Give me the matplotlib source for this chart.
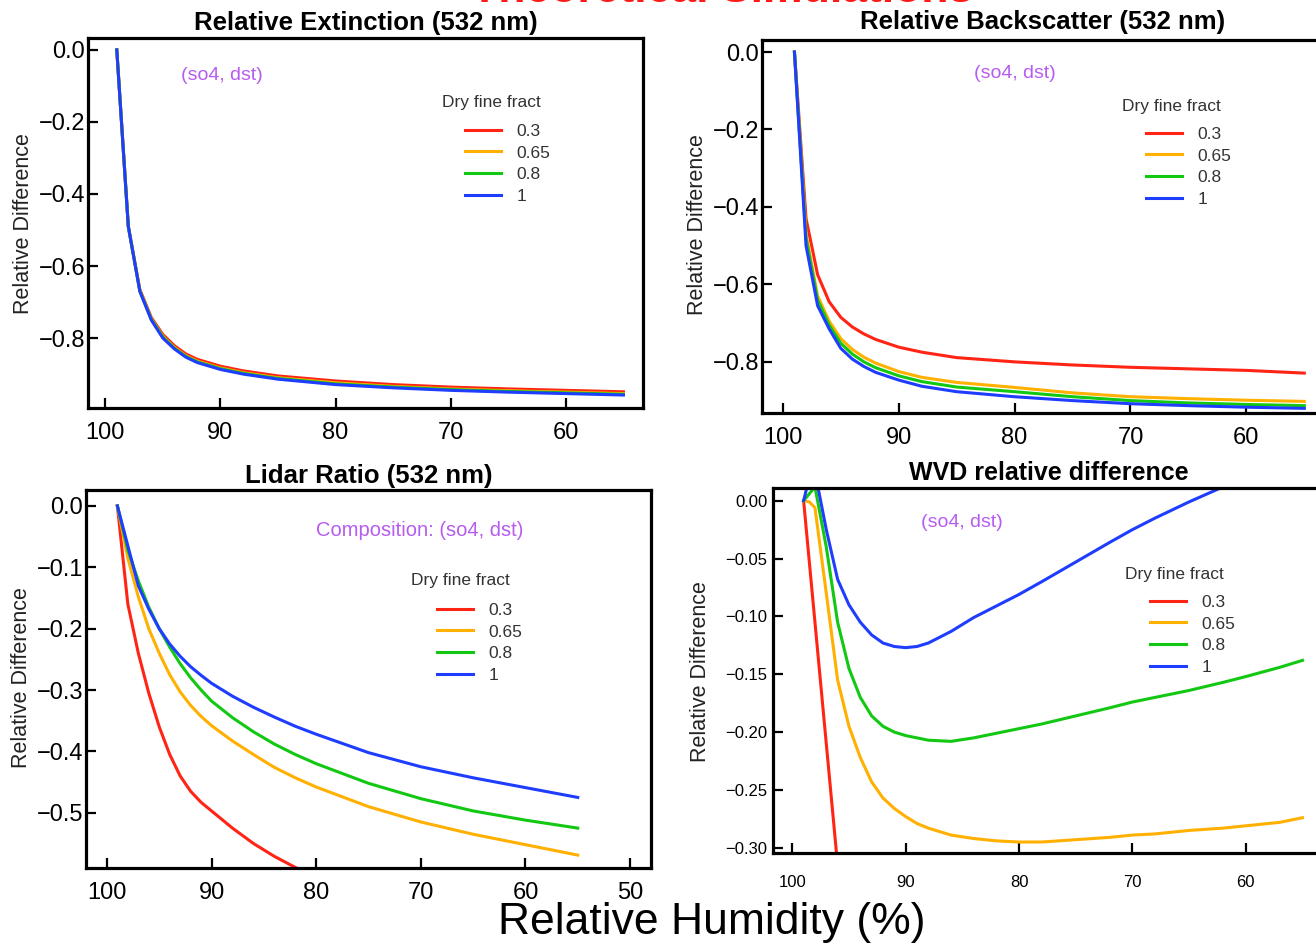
import matplotlib
matplotlib.use('Agg')
import matplotlib.pyplot as plt

plt.rcParams['font.family'] = ['Liberation Sans', 'DejaVu Sans']

W, H = 1316, 947

# dry fine fraction series
fractions = ['0.3', '0.65', '0.8', '1']
colors = ['#ff2414', '#ffb000', '#12c812', '#1f3dff']

# relative humidity grid (%) for the extinction / backscatter panels
rh = [99, 98, 97, 96, 95, 94, 93, 92, 90, 88, 85, 80, 75, 70, 65, 60, 55]

# Relative extinction (532 nm)
ext_03 = [0, -0.49, -0.665, -0.743, -0.79, -0.821, -0.844, -0.859, -0.878, -0.891, -0.905, -0.919, -0.929, -0.936, -0.941, -0.945, -0.949]
ext_065 = [0, -0.49, -0.668, -0.747, -0.795, -0.826, -0.849, -0.864, -0.883, -0.896, -0.910, -0.924, -0.934, -0.941, -0.946, -0.950, -0.954]
ext_08 = [0, -0.49, -0.669, -0.748, -0.797, -0.828, -0.851, -0.866, -0.885, -0.898, -0.912, -0.927, -0.936, -0.943, -0.948, -0.952, -0.956]
ext_1 = [0, -0.49, -0.670, -0.750, -0.800, -0.830, -0.853, -0.868, -0.887, -0.900, -0.914, -0.929, -0.938, -0.945, -0.950, -0.954, -0.958]

# Relative backscatter (532 nm)
bsc_03 = [0, -0.43, -0.575, -0.645, -0.685, -0.710, -0.728, -0.742, -0.762, -0.775, -0.789, -0.800, -0.808, -0.814, -0.818, -0.822, -0.829]
bsc_065 = [0, -0.47, -0.630, -0.695, -0.740, -0.768, -0.788, -0.803, -0.825, -0.840, -0.853, -0.866, -0.880, -0.890, -0.895, -0.899, -0.902]
bsc_08 = [0, -0.48, -0.640, -0.705, -0.752, -0.780, -0.800, -0.815, -0.836, -0.851, -0.865, -0.877, -0.890, -0.900, -0.906, -0.910, -0.913]
bsc_1 = [0, -0.50, -0.655, -0.715, -0.765, -0.793, -0.812, -0.827, -0.847, -0.863, -0.877, -0.890, -0.900, -0.908, -0.913, -0.917, -0.920]

# Lidar ratio (532 nm)
rh_lr = [99, 98, 97, 96, 95, 94, 93, 92, 91, 90, 88, 86, 84, 82, 80, 75, 70, 65, 60, 55]
rh_lr_red = [99, 98, 97, 96, 95, 94, 93, 92, 91, 90, 88, 86, 84, 82, 80]
lr_03 = [0, -0.16, -0.24, -0.305, -0.36, -0.405, -0.44, -0.465, -0.483, -0.497, -0.525, -0.55, -0.571, -0.589, -0.606]
lr_065 = [0, -0.085, -0.148, -0.2, -0.24, -0.275, -0.303, -0.325, -0.343, -0.358, -0.383, -0.405, -0.426, -0.443, -0.458, -0.49, -0.515, -0.535, -0.552, -0.569]
lr_08 = [0, -0.072, -0.122, -0.165, -0.2, -0.23, -0.257, -0.28, -0.3, -0.318, -0.345, -0.368, -0.388, -0.405, -0.42, -0.452, -0.477, -0.497, -0.512, -0.525]
lr_1 = [0, -0.065, -0.13, -0.168, -0.2, -0.225, -0.245, -0.262, -0.276, -0.289, -0.31, -0.328, -0.344, -0.359, -0.372, -0.402, -0.425, -0.443, -0.459, -0.475]

# WVD relative difference
rh_wvd_red = [99, 98, 97, 96]
wvd_03 = [0, -0.105, -0.21, -0.315]
rh_wvd = [99, 98.5, 98, 97, 96, 95, 94, 93, 92, 91, 90, 89, 88, 86, 84, 82, 80, 78, 75, 72, 70, 68, 65, 62, 60, 57, 55]
wvd_065 = [0, -0.001, -0.006, -0.08, -0.155, -0.195, -0.222, -0.243, -0.257, -0.266, -0.273, -0.279, -0.283, -0.289, -0.292, -0.294, -0.295, -0.295, -0.293, -0.291, -0.289, -0.288, -0.285, -0.283, -0.281, -0.278, -0.274]
wvd_08 = [0, 0.006, 0.012, -0.04, -0.105, -0.145, -0.17, -0.186, -0.195, -0.2, -0.203, -0.205, -0.207, -0.208, -0.205, -0.201, -0.197, -0.193, -0.186, -0.179, -0.174, -0.17, -0.164, -0.157, -0.152, -0.144, -0.138]
wvd_1 = [0, 0.02, 0.025, -0.025, -0.068, -0.09, -0.105, -0.116, -0.123, -0.126, -0.127, -0.126, -0.123, -0.113, -0.101, -0.091, -0.081, -0.07, -0.053, -0.036, -0.025, -0.015, -0.001, 0.012, 0.02, 0.032, 0.04]

purple = '#b65cf0'

fig = plt.figure(figsize=(W / 100, H / 100), dpi=100)


def box(left, top, right, bottom):
    return [left / W, 1 - bottom / H, (right - left) / W, (bottom - top) / H]


def P(x, y):
    return (x / W, 1 - y / H)


def setup(ax, xlim, ylim, xticks, yticks, fmt, fs, xpad, ypad):
    ax.set_xlim(*xlim)
    ax.set_ylim(*ylim)
    ax.set_xticks(xticks)
    ax.set_yticks(yticks)
    ax.set_yticklabels([fmt.format(v).replace('-', '\u2212') for v in yticks])
    for s in ax.spines.values():
        s.set_linewidth(2.3)
    ax.tick_params(direction='in', length=7, width=1.6, labelsize=fs,
                   top=False, right=False)
    ax.tick_params(axis='x', pad=xpad)
    ax.tick_params(axis='y', pad=ypad)


def add_legend(ax, title_xy, anchor_xy):
    fig.text(*P(*title_xy), 'Dry fine fract', fontsize=12.5, color='#333333',
             ha='left', va='center')
    leg = ax.legend(loc='upper left', bbox_to_anchor=P(*anchor_xy),
                    bbox_transform=fig.transFigure, frameon=False,
                    fontsize=12.5, handlelength=2.1, handletextpad=0.85,
                    labelspacing=0.39, borderpad=0, borderaxespad=0)
    for t in leg.get_texts():
        t.set_color('#333333')


def ylabel(xy):
    fig.text(*P(*xy), 'Relative Difference', fontsize=15.5, rotation=90,
             ha='center', va='center', color='#222222')


lw = 2.2

# ---- Relative extinction
ax1 = fig.add_axes(box(88, 38, 643, 408))
for ys, c, lab in zip([ext_03, ext_065, ext_08, ext_1], colors, fractions):
    ax1.plot(rh, ys, color=c, lw=lw, label=lab)
setup(ax1, (101.5, 53.3), (-0.994, 0.033), [100, 90, 80, 70, 60],
      [0, -0.2, -0.4, -0.6, -0.8], '{:.1f}', 17, 10, 2)
ax1.set_title('Relative Extinction (532 nm)', fontsize=18.5, fontweight='bold', pad=6)
ax1.text(*P(222, 75), '(so4, dst)', transform=fig.transFigure, color=purple,
         fontsize=14, ha='center', va='center')
add_legend(ax1, (442, 102), (465, 123.5))
ylabel((24, 224))

# ---- Relative backscatter
ax2 = fig.add_axes(box(762, 40, 1324, 413))
for ys, c, lab in zip([bsc_03, bsc_065, bsc_08, bsc_1], colors, fractions):
    ax2.plot(rh, ys, color=c, lw=lw, label=lab)
setup(ax2, (101.8, 53.3), (-0.932, 0.031), [100, 90, 80, 70, 60],
      [0, -0.2, -0.4, -0.6, -0.8], '{:.1f}', 17, 10, 2)
ax2.set_title('Relative Backscatter (532 nm)', fontsize=18.5, fontweight='bold', pad=8)
ax2.text(*P(1015, 73), '(so4, dst)', transform=fig.transFigure, color=purple,
         fontsize=14, ha='center', va='center')
add_legend(ax2, (1122, 106), (1146, 126.5))
ylabel((698, 225))

# ---- Lidar ratio
ax3 = fig.add_axes(box(86, 490, 651, 868))
ax3.plot(rh_lr_red, lr_03, color=colors[0], lw=lw, label=fractions[0])
for ys, c, lab in zip([lr_065, lr_08, lr_1], colors[1:], fractions[1:]):
    ax3.plot(rh_lr, ys, color=c, lw=lw, label=lab)
setup(ax3, (102, 48), (-0.59, 0.026), [100, 90, 80, 70, 60, 50],
      [0, -0.1, -0.2, -0.3, -0.4, -0.5], '{:.1f}', 17, 10, 2)
ax3.set_title('Lidar Ratio (532 nm)', fontsize=18.5, fontweight='bold', pad=5)
ax3.text(*P(420, 531), 'Composition: (so4, dst)', transform=fig.transFigure,
         color=purple, fontsize=14.5, ha='center', va='center')
add_legend(ax3, (411, 581), (437, 602.5))
ylabel((22, 678))

# ---- WVD relative difference
ax4 = fig.add_axes(box(773, 488, 1324, 853))
ax4.plot(rh_wvd_red, wvd_03, color=colors[0], lw=lw, label=fractions[0])
for ys, c, lab in zip([wvd_065, wvd_08, wvd_1], colors[1:], fractions[1:]):
    ax4.plot(rh_wvd, ys, color=c, lw=lw, label=lab)
setup(ax4, (101.7, 53.1), (-0.3045, 0.011), [100, 90, 80, 70, 60],
      [0, -0.05, -0.1, -0.15, -0.2, -0.25, -0.3], '{:.2f}', 12, 16, 4)
ax4.set_title('WVD relative difference', fontsize=18, fontweight='bold', pad=6)
ax4.text(*P(962, 522), '(so4, dst)', transform=fig.transFigure, color=purple,
         fontsize=14, ha='center', va='center')
add_legend(ax4, (1125, 575), (1150, 594.5))
ylabel((700, 672))

fig.text(*P(712, 922), 'Relative Humidity (%)', fontsize=32, ha='center', va='center')
fig.text(*P(722, 2), 'Theoretical Simulations', fontsize=32, fontweight='bold',
         color='#ff1a1a', ha='center', va='baseline')

fig.savefig('out.png', dpi=100)
